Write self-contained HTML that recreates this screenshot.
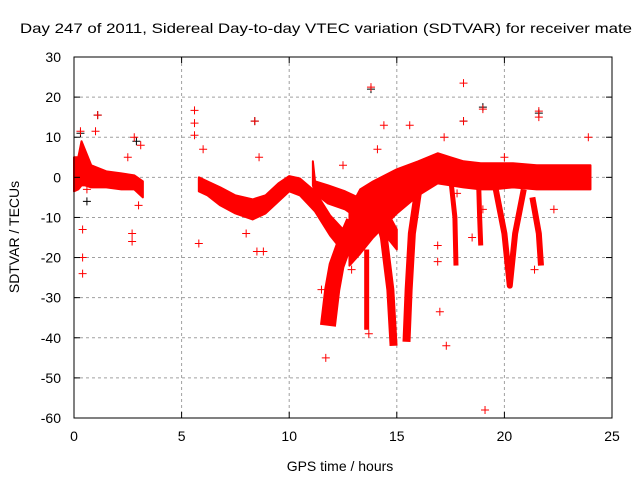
<!DOCTYPE html>
<html><head><meta charset="utf-8"><style>
html,body{margin:0;padding:0;background:#fff}
svg{display:block;font-family:"Liberation Sans",sans-serif}
</style></head><body>
<svg id="chart" width="640" height="480" viewBox="0 0 640 480">
<text x="20" y="33" font-size="14" textLength="612" lengthAdjust="spacingAndGlyphs" fill="#000">Day 247 of 2011, Sidereal Day-to-day VTEC variation (SDTVAR) for receiver mate</text>
<g id="grid"></g>
<g id="marks"></g>
<rect x="74" y="57" width="538" height="361" fill="none" stroke="#000" stroke-width="1"/>
<g id="axes"></g>
<text x="340" y="471" font-size="14" text-anchor="middle">GPS time / hours</text>
<text transform="translate(19,237) rotate(-90)" font-size="14" text-anchor="middle">SDTVAR / TECUs</text>
</svg>
<script>
const xTicks=[0,5,10,15,20,25];
const yTicks=[30,20,10,0,-10,-20,-30,-40,-50,-60];
// horizontal-ish bands: [hour, upper TECU, lower TECU]
const bandEarly=[[0,5,-3.5],[0.2,5,-3],[0.35,9,-2],[0.5,7,-2],[0.8,3,-2.5],[1.5,1.5,-2.5],[2.2,1,-3],[2.8,0.5,-3],[3.2,-1,-5]];
const bandMorning=[[5.8,0,-3.5],[6.2,-1,-4.5],[6.8,-2.5,-7],[7.5,-4.5,-9],[8.3,-5.5,-10.5],[8.9,-4.5,-9],[9.5,-1.5,-6],[10.0,0.3,-3.5],[10.5,-0.3,-4.5],[11.2,-3.5,-8.5],[11.9,-9.5,-14.5],[12.5,-13,-18.5],[13.0,-14,-19.5]];
const bandAfternoon=[[11.1,4,-2],[11.2,-1,-4],[11.8,-2,-6.5],[12.6,-3.5,-8],[13.4,-5.5,-11],[14.2,-8,-13],[14.7,-10,-16],[15.0,-13,-18]];
const bandMain=[[12.8,-8,-22],[13.3,-3,-19],[13.9,-1,-15],[15.0,2,-9],[16.0,4,-4.5],[16.9,6,-1.5],[17.5,5,-2],[18.1,4,-2.5],[18.9,3.5,-3],[19.5,3.5,-3],[20.4,3.5,-2.5],[21.5,3,-3],[22.5,3,-3],[24,3,-3]];
const bands=[bandEarly,bandMorning,bandAfternoon,bandMain];
// near-vertical tracks: [hour, TECU]
const trackRiseFoot=[[11.8,-37],[12.0,-28],[12.2,-22],[12.6,-16],[13.0,-11]];
const trackDipA=[[14.0,-7],[14.4,-15],[14.7,-28],[14.85,-42]];
const trackDipB=[[16.0,-3],[15.7,-14],[15.55,-28],[15.45,-41]];
const trackDipC=[[13.6,-18],[13.6,-27],[13.6,-38]];
const trackDipD=[[17.5,0],[17.7,-10],[17.75,-22]];
const trackDipE=[[18.8,-1],[18.85,-10],[18.9,-17]];
const trackDipF=[[19.6,-3],[20.0,-14],[20.25,-27],[20.5,-14],[20.9,-3]];
const trackDipG=[[21.3,-5],[21.6,-14],[21.7,-22]];
const tracks=[trackRiseFoot,trackDipA,trackDipB,trackDipC,trackDipD,trackDipE,trackDipF,trackDipG];
const trackWidthPx=[16,8,8,5,5,5,6,6];
const outlierHours=[0.3,0.4,0.4,0.4,1.1,1.0,2.8,2.7,2.7,3.0,5.6,5.6,5.6,5.8,8.4,8.5,8.8,8.0,13.8,14.4,15.6,17.0,17.3,18.1,18.1,19.0,19.1,21.6,21.6,23.9,11.5,11.7,13.7,12.5,17.2,16.9,16.9,18.5,20.0,21.4,19.0,0.6,2.5,3.1,6.0,8.6,12.9,14.1,17.8,22.3];
const outlierValues=[11.5,-24,-20,-13,15.5,11.5,10,-14,-16,-7,16.7,13.5,10.5,-16.5,14,-18.5,-18.5,-14,22.5,13,13,-33.5,-42,23.5,14,17,-58,16.5,15,10,-28,-45,-39,3,10,-17,-21,-15,5,-23,-8,-3,5,8,7,5,-23,7,-4,-8];
const blackHours=[0.3,1.1,8.4,13.8,18.1,19.0,21.6,0.6,2.9];
const blackValues=[11,15.5,14,22,14,17.5,16,-6,9];

const X0=74,X1=612,Y0=57,Y1=418;
const sx=h=>X0+(h-0)/(25-0)*(X1-X0);
const sy=v=>Y1-(v-(-60))/(30-(-60))*(Y1-Y0);
const NS="http://www.w3.org/2000/svg";
function mk(tag,attrs,parent){const e=document.createElementNS(NS,tag);for(const k in attrs)e.setAttribute(k,attrs[k]);parent.appendChild(e);return e;}
const grid=document.getElementById('grid'),axes=document.getElementById('axes'),marks=document.getElementById('marks');
xTicks.forEach(t=>{const x=sx(t);
 if(t>0&&t<25){const l=mk('line',{x1:x,y1:Y0,x2:x,y2:Y1,stroke:'#a0a0a0','stroke-dasharray':'3,3'},grid);
 
 }
 mk('line',{x1:x,y1:Y1,x2:x,y2:Y1-6,stroke:'#000'},axes);
 mk('line',{x1:x,y1:Y0,x2:x,y2:Y0+6,stroke:'#000'},axes);
 const tx=mk('text',{x:x,y:Y1+23,'font-size':14,'text-anchor':'middle'},axes);tx.textContent=t;
 
 
});
yTicks.forEach(t=>{const y=sy(t);
 if(t<30&&t>-60){const l=mk('line',{x1:X0,y1:y,x2:X1,y2:y,stroke:'#a0a0a0','stroke-dasharray':'3,3'},grid);
 
 }
 mk('line',{x1:X0,y1:y,x2:X0+6,y2:y,stroke:'#000'},axes);
 mk('line',{x1:X1,y1:y,x2:X1-6,y2:y,stroke:'#000'},axes);
 const tx=mk('text',{x:X0-13,y:y+5,'font-size':14,'text-anchor':'end'},axes);tx.textContent=t;
 
 
});
bands.forEach(b=>{
 const up=b.map(d=>sx(d[0])+','+sy(d[1]));
 const lo=b.slice().reverse().map(d=>sx(d[0])+','+sy(d[2]));
 const p=mk('polygon',{points:up.concat(lo).join(' '),fill:'#ff0000',stroke:'#ff0000','stroke-width':2,'stroke-linejoin':'round'},marks);
 
 
});
tracks.forEach((tr,i)=>{
 const p=mk('polyline',{points:tr.map(d=>sx(d[0])+','+sy(d[1])).join(' '),fill:'none',stroke:'#ff0000','stroke-width':trackWidthPx[i],'stroke-linejoin':'round','stroke-linecap':'butt'},marks);
 
 
});
function plus(h,v,col,name){const x=sx(h),y=sy(v);
 const g=mk('path',{d:`M${x-4},${y}H${x+4}M${x},${y-4}V${y+4}`,stroke:col,'stroke-width':1,fill:'none'},marks);
 
 }
blackHours.forEach((h,i)=>plus(h,blackValues[i],'#000','black-point'));
outlierHours.forEach((h,i)=>plus(h,outlierValues[i],'#ff0000','outlier-point'));
</script>
</body></html>
